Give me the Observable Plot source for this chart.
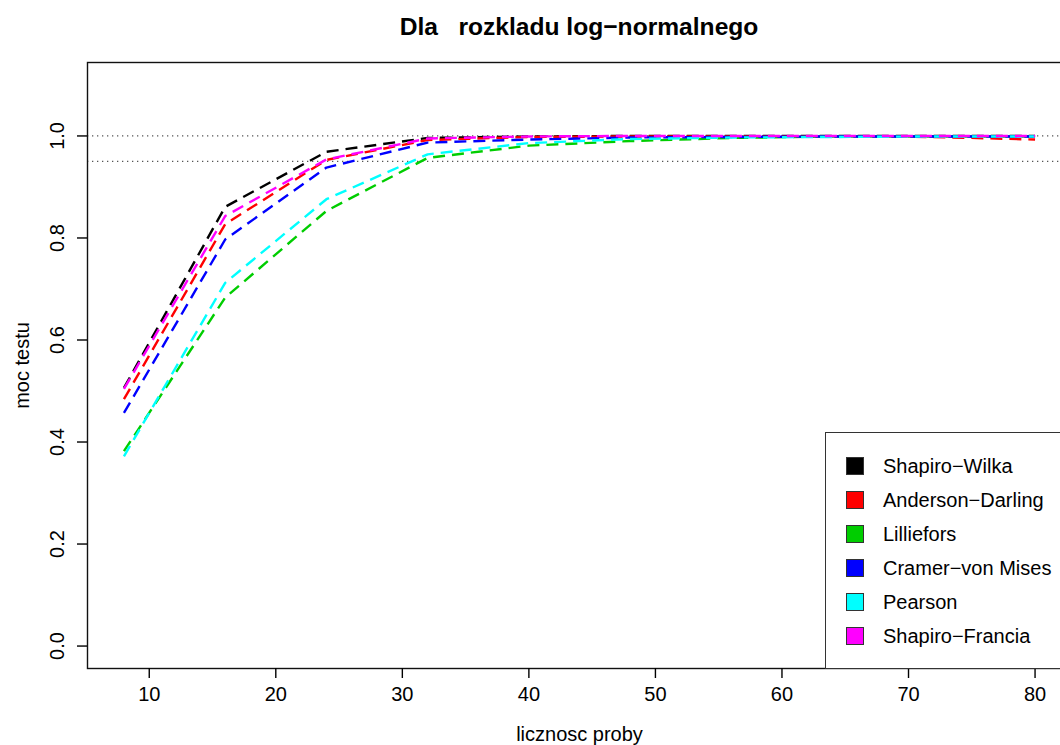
<!DOCTYPE html>
<html>
<head>
<meta charset="utf-8">
<script src="https://cdn.jsdelivr.net/npm/d3@7"></script>
<script src="https://cdn.jsdelivr.net/npm/@observablehq/plot@0.6"></script>
<style>
  html, body { margin: 0; padding: 0; background: #fff; overflow: hidden; width: 1060px; height: 745px; }
  #wrap { position: relative; width: 1060px; height: 745px; overflow: hidden; font-family: "Liberation Sans", Arial, Helvetica, sans-serif; }
  #title { position: absolute; left: 0; top: 15px; width: 1158px; text-align: center; font-weight: bold; font-size: 24.6px; line-height: 24px; color: #000; white-space: pre; }
  #legend { position: absolute; left: 825px; top: 432px; width: 300px; height: 235px; border: 1.5px solid #333; background: #fff; }
  .row { position: absolute; left: 20px; height: 34px; display: flex; align-items: center; font-size: 20px; color: #000; white-space: nowrap; }
  .sw { width: 16px; height: 16px; border: 1px solid #333; margin-right: 19px; }
  svg { position: absolute; left: 0; top: 0; max-width: none !important; }
</style>
</head>
<body>
<div id="wrap">
  <div id="title"></div>
  <div id="legend"></div>
</div>
<script>
// ---- data ----
const sizes = [8, 16, 24, 32, 40, 48, 56, 64, 72, 80];
const testNames = ["Shapiro\u2212Wilka", "Anderson\u2212Darling", "Lilliefors", "Cramer\u2212von Mises", "Pearson", "Shapiro\u2212Francia"];
const testColors = ["#000000", "#FF0000", "#00CD00", "#0000FF", "#00FFFF", "#FF00FF"];
const shapiroWilk   = [0.506, 0.861, 0.969, 0.996, 0.999, 1.000, 1.000, 1.000, 1.000, 1.000];
const andersonDarl  = [0.484, 0.827, 0.953, 0.992, 0.998, 0.999, 0.999, 0.999, 0.998, 0.993];
const lilliefors    = [0.382, 0.683, 0.853, 0.957, 0.981, 0.990, 0.996, 0.999, 0.999, 0.999];
const cramerVonMis  = [0.457, 0.797, 0.938, 0.987, 0.993, 0.997, 0.998, 0.999, 0.999, 0.999];
const pearson       = [0.372, 0.712, 0.876, 0.964, 0.986, 0.994, 0.997, 0.998, 0.999, 0.999];
const shapiroFranc  = [0.504, 0.843, 0.954, 0.995, 0.999, 1.000, 1.000, 1.000, 1.000, 1.000];
const refLines = [1, 0.95];
const xTicks = [10, 20, 30, 40, 50, 60, 70, 80];
const yTicks = [0, 0.2, 0.4, 0.6, 0.8, 1.0];
const titleText = "Dla   rozkladu log\u2212normalnego";
const xLabel = "licznosc proby";
const yLabel = "moc testu";

const seriesValues = [shapiroWilk, andersonDarl, lilliefors, cramerVonMis, pearson, shapiroFranc];
const rows = [];
seriesValues.forEach((vals, i) => vals.forEach((v, j) => rows.push({n: sizes[j], power: v, test: testNames[i]})));

const font = "Liberation Sans, Arial, Helvetica, sans-serif";

const chart = Plot.plot({
  width: 1071,
  height: 745,
  marginLeft: 87,
  marginRight: 0,
  marginTop: 62,
  marginBottom: 77,
  style: {fontFamily: font, fontSize: "20px", background: "transparent", overflow: "visible", maxWidth: "none"},
  x: {domain: [5.12, 82.88]},
  y: {domain: [-0.044, 1.144]},
  color: {domain: testNames, range: testColors},
  marks: [
    Plot.ruleY(refLines, {stroke: "#555", strokeWidth: 1.3, strokeDasharray: "1.3,3.7"}),
    Plot.line(rows, {x: "n", y: "power", z: "test", stroke: "test", strokeWidth: 2.4, strokeDasharray: "12,7", strokeLinecap: "butt"}),
    Plot.frame({stroke: "#111", strokeWidth: 1.4}),
    Plot.axisX({ticks: xTicks, tickSize: 10, tickPadding: 8, strokeWidth: 1.4, fontSize: 20, tickFormat: d => String(d),
      label: xLabel, labelAnchor: "center", labelArrow: "none", labelOffset: 72}),
    // y tick marks
    Plot.axisY({ticks: yTicks, tickSize: 10, strokeWidth: 1.4, tickFormat: () => "", label: null}),
    // y tick labels, rotated like R (las = 0)
    Plot.axisY({ticks: yTicks, tickSize: 0, tickPadding: 30, fontSize: 20, rotate: -90, textAnchor: "middle", lineAnchor: "middle",
      tickFormat: d => d.toFixed(1), label: yLabel, labelAnchor: "center", labelArrow: "none", labelOffset: 73})
  ]
});

const wrap = document.getElementById("wrap");
wrap.insertBefore(chart, wrap.firstChild);
document.getElementById("title").textContent = titleText;

const legend = document.getElementById("legend");
testNames.forEach((name, i) => {
  const r = document.createElement("div");
  r.className = "row";
  r.style.top = (16 + 34 * i) + "px";
  const s = document.createElement("div");
  s.className = "sw";
  s.style.background = testColors[i];
  const t = document.createElement("span");
  t.textContent = name;
  r.appendChild(s); r.appendChild(t);
  legend.appendChild(r);
});
</script>
</body>
</html>
